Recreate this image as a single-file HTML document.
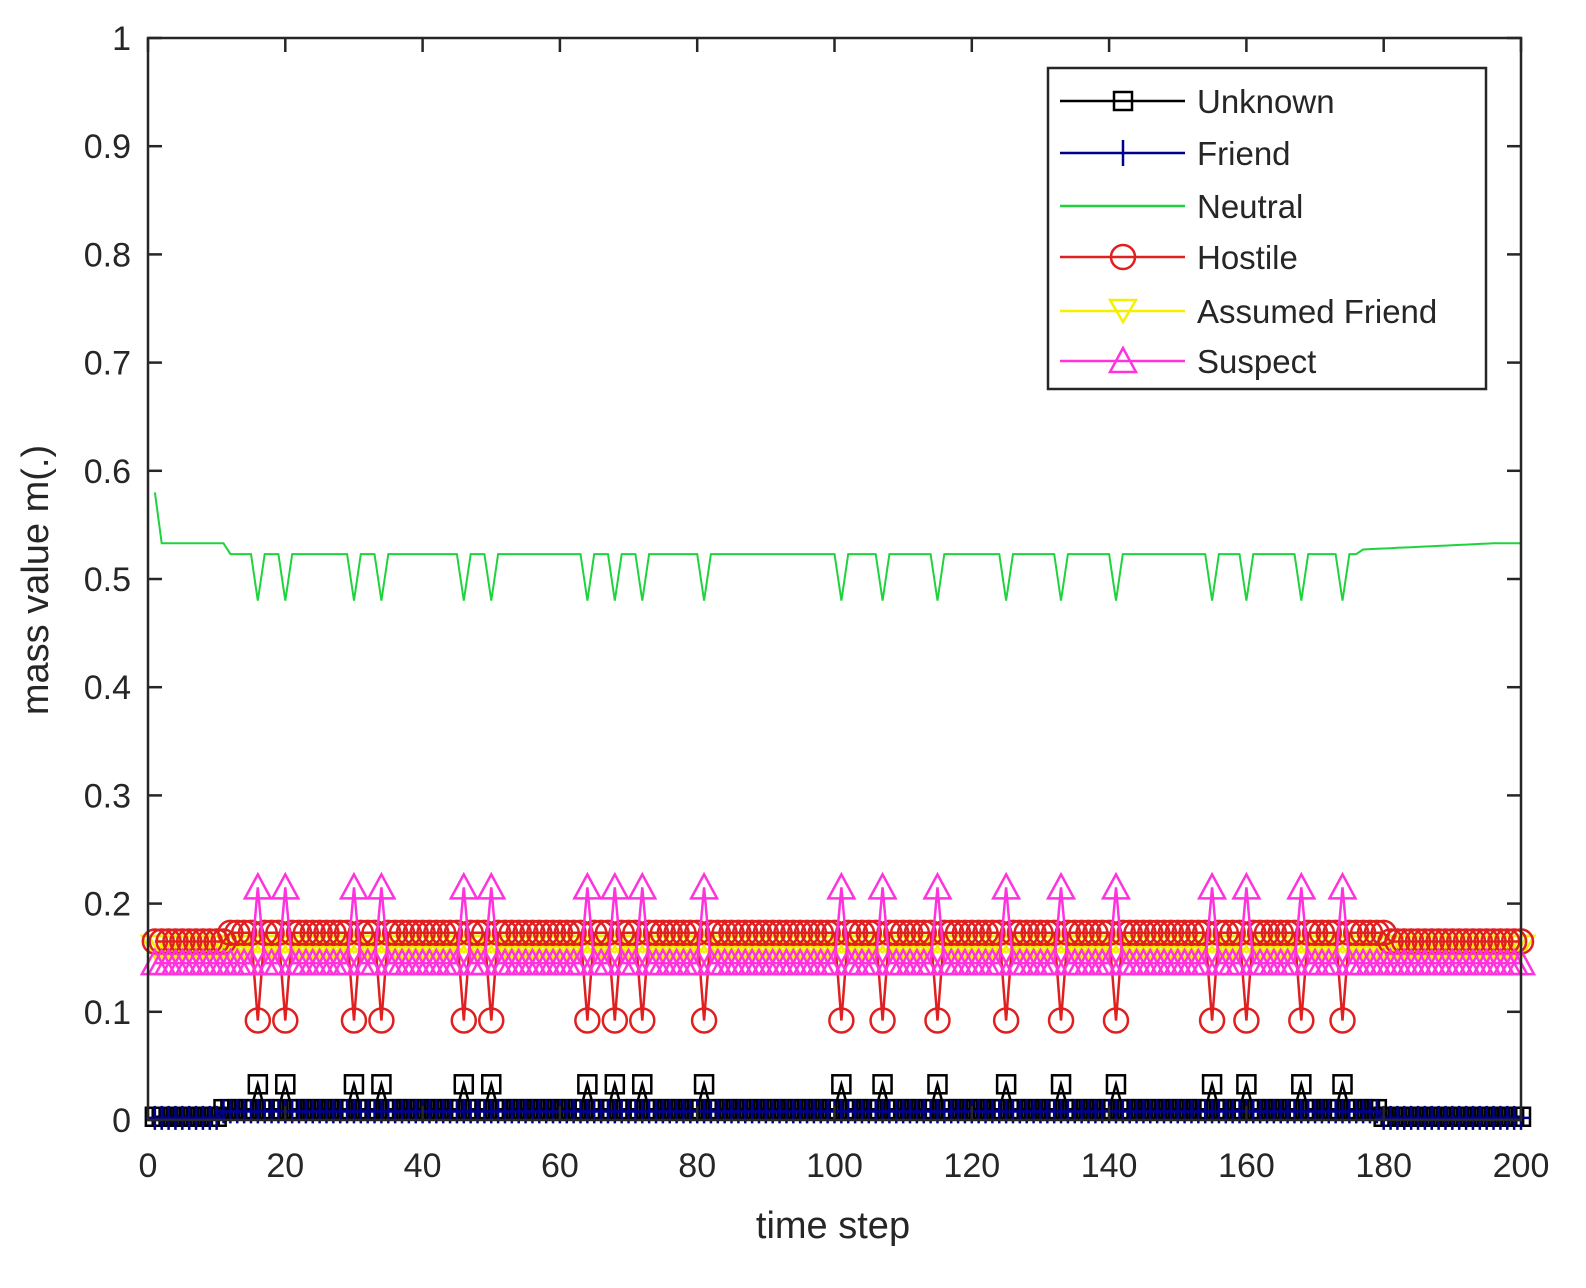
<!DOCTYPE html>
<html><head><style>body{margin:0;background:#fff}svg{display:block}text{font-family:"Liberation Sans",sans-serif;fill:#262626}</style></head>
<body>
<svg id="s" width="1586" height="1288" xmlns="http://www.w3.org/2000/svg">
<rect x="0" y="0" width="1586" height="1288" fill="#fff"/>
<g id="plot"></g>
<rect x="148" y="38" width="1373" height="1082" fill="none" stroke="#262626" stroke-width="2.5"/>
<g id="ax"></g>
<text x="833" y="1238" font-size="38" text-anchor="middle">time step</text>
<text transform="translate(48,580) rotate(-90)" font-size="38" text-anchor="middle">mass value m(.)</text>
<g>
<rect x="1048" y="68" width="438" height="321" fill="#fff" stroke="#262626" stroke-width="2.5"/>
<line x1="1060" y1="101" x2="1185" y2="101" stroke="#000" stroke-width="2.5"/><rect x="1114" y="92" width="18" height="18" fill="none" stroke="#000" stroke-width="2.5"/>
<line x1="1060" y1="153" x2="1185" y2="153" stroke="#00008b" stroke-width="2.5"/><line x1="1123" y1="140" x2="1123" y2="166" stroke="#00008b" stroke-width="2.5"/>
<line x1="1060" y1="206" x2="1185" y2="206" stroke="#1ed33c" stroke-width="2.5"/>
<line x1="1060" y1="257" x2="1185" y2="257" stroke="#e02020" stroke-width="2.5"/><circle cx="1123" cy="257" r="12" fill="none" stroke="#e02020" stroke-width="2.5"/>
<line x1="1060" y1="311" x2="1185" y2="311" stroke="#f5f000" stroke-width="2.5"/><path d="M1110,300 L1136,300 L1123,322 Z" fill="none" stroke="#f5f000" stroke-width="2.5"/>
<line x1="1060" y1="361" x2="1185" y2="361" stroke="#ff33dd" stroke-width="2.5"/><path d="M1110,372 L1136,372 L1123,348 Z" fill="none" stroke="#ff33dd" stroke-width="2.5"/>
<text x="1197" y="113" font-size="33">Unknown</text>
<text x="1197" y="165" font-size="33">Friend</text>
<text x="1197" y="218" font-size="33">Neutral</text>
<text x="1197" y="269" font-size="33">Hostile</text>
<text x="1197" y="323" font-size="33">Assumed Friend</text>
<text x="1197" y="373" font-size="33">Suspect</text>
</g>
</svg>
<script>
var NS="http://www.w3.org/2000/svg";
function X(t){return 148+t*6.865}function Y(v){return 1120-v*1082}
function el(p,n,a){var e=document.createElementNS(NS,n);for(var k in a)e.setAttribute(k,a[k]);p.appendChild(e);return e}
var ax=document.getElementById('ax'),pl=document.getElementById('plot');
for(var i=0;i<=10;i++){var y=Y(i/10);el(ax,'line',{x1:148,y1:y,x2:162,y2:y,stroke:'#262626','stroke-width':2.5});el(ax,'line',{x1:1507,y1:y,x2:1521,y2:y,stroke:'#262626','stroke-width':2.5});
var t=el(ax,'text',{x:131,y:y+12,'font-size':34,'text-anchor':'end'});t.textContent=i==0?'0':i==10?'1':'0.'+i;}
for(var i=0;i<=10;i++){var x=X(i*20);el(ax,'line',{x1:x,y1:1120,x2:x,y2:1106,stroke:'#262626','stroke-width':2.5});el(ax,'line',{x1:x,y1:38,x2:x,y2:52,stroke:'#262626','stroke-width':2.5});
var t=el(ax,'text',{x:x,y:1177,'font-size':34,'text-anchor':'middle'});t.textContent=i*20;}
var ev=[16,20,30,34,46,50,64,68,72,81,101,107,115,125,133,141,155,160,168,174];
var N=[],H=[],A=[],S=[],U=[],F=[];
for(var t=1;t<=200;t++){var e=ev.indexOf(t)>=0;
var nb=t==1?0.58:t<12?0.533:t>176?0.527+0.006*Math.min(1,(t-176)/20):0.523;
N.push(e?0.48:nb);H.push(e?0.092:(t<12||t>180?0.165:0.173));A.push(e?0.155:0.16);S.push(e?0.215:0.145);
U.push(e?0.033:(t>10&&t<180?0.01:0.003));F.push(t>10&&t<180?0.008:0.002);}
function line(d,c,w){var p='';d.forEach(function(v,i){p+=(i?'L':'M')+X(i+1).toFixed(1)+','+Y(v).toFixed(1)});el(pl,'path',{d:p,fill:'none',stroke:c,'stroke-width':w||2.5})}
function mk(d,c,type){d.forEach(function(v,i){var x=X(i+1),y=Y(v);
if(type=='s')el(pl,'rect',{x:x-9,y:y-9,width:18,height:18,fill:'none',stroke:c,'stroke-width':2.5});
if(type=='+'){el(pl,'path',{d:'M'+(x-9)+','+y+'H'+(x+9)+'M'+x+','+(y-12)+'V'+(y+12),stroke:c,'stroke-width':2.5})}
if(type=='o')el(pl,'circle',{cx:x,cy:y,r:12,fill:'none',stroke:c,'stroke-width':2.5});
if(type=='v')el(pl,'path',{d:'M'+(x-13)+','+(y-11)+'L'+(x+13)+','+(y-11)+'L'+x+','+(y+11)+'Z',fill:'none',stroke:c,'stroke-width':2.5});
if(type=='^')el(pl,'path',{d:'M'+(x-13)+','+(y+11)+'L'+(x+13)+','+(y+11)+'L'+x+','+(y-13)+'Z',fill:'none',stroke:c,'stroke-width':2.5});})}
line(A,'#f5f000');mk(A,'#f5f000','v');
line(H,'#e02020');mk(H,'#e02020','o');
line(S,'#ff33dd');mk(S,'#ff33dd','^');
line(U,'#000');mk(U,'#000','s');
line(F,'#00008b');mk(F,'#00008b','+');
line(N,'#1ed33c',2);
</script>
</body></html>
